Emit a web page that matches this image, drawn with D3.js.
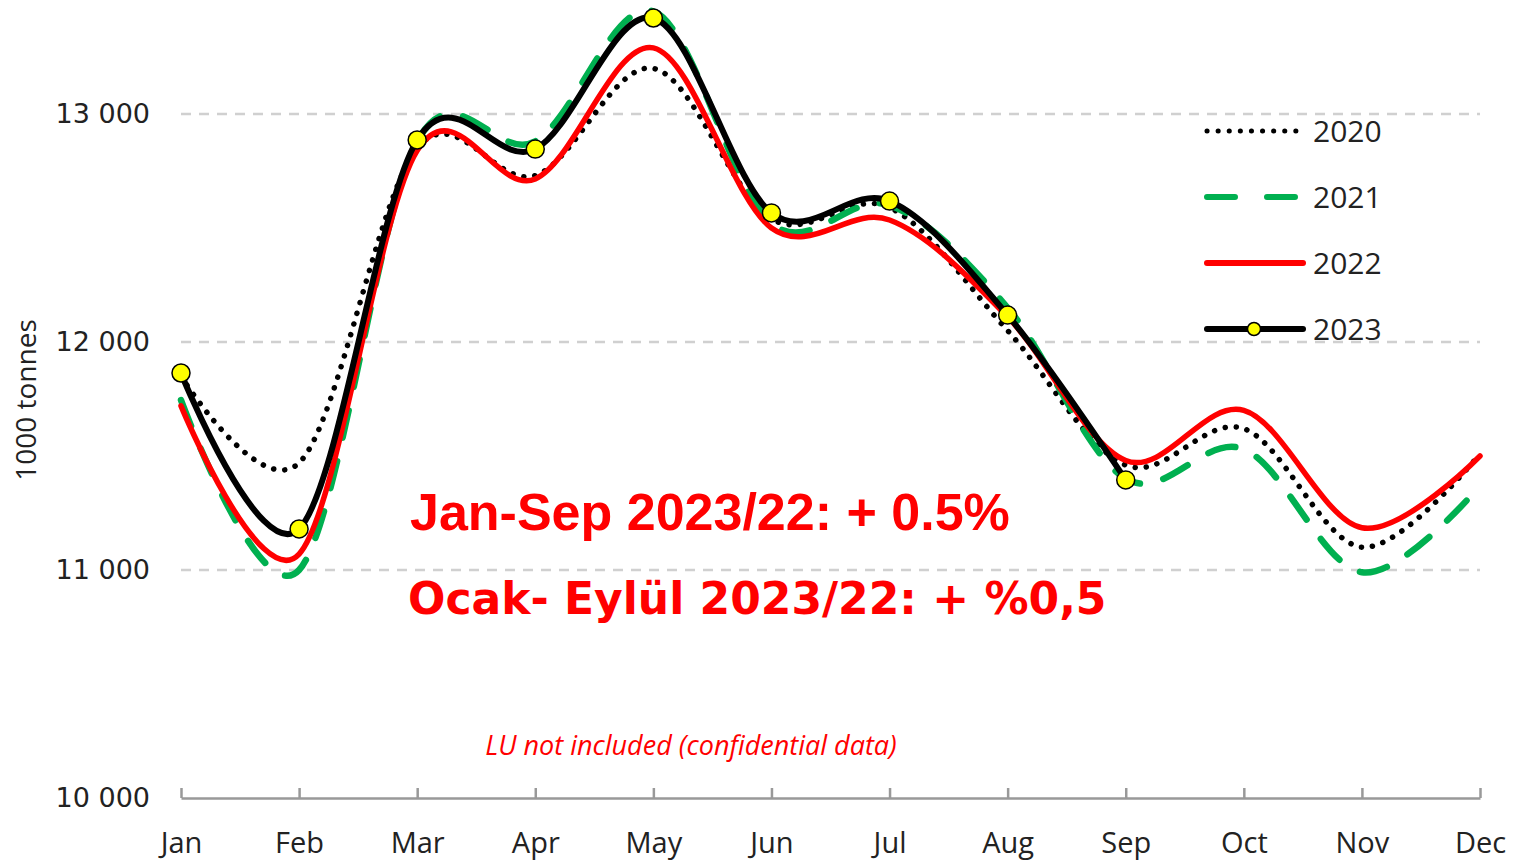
<!DOCTYPE html>
<html>
<head>
<meta charset="utf-8">
<script src="https://cdn.jsdelivr.net/npm/d3@7"></script>
<style>
  body { margin: 0; background: #fff; }
  svg { display: block; }
</style>
</head>
<body>
<svg id="chart" width="1515" height="862"></svg>
<script>
var months = ['Jan', 'Feb', 'Mar', 'Apr', 'May', 'Jun', 'Jul', 'Aug', 'Sep', 'Oct', 'Nov', 'Dec'];
var yTicks = [10000, 11000, 12000, 13000];

var values2020 = [11850, 11470, 12850, 12730, 13200, 12540, 12590, 12050, 11460, 11620, 11100, 11510];
var values2021 = [11745, 11000, 12880, 12880, 13450, 12520, 12600, 12150, 11400, 11530, 10990, 11370];
var values2022 = [11720, 11070, 12840, 12715, 13290, 12500, 12535, 12110, 11480, 11700, 11185, 11500];
var values2023 = [11864, 11180, 12886, 12846, 13421, 12566, 12618, 12118, 11395];

var seriesNames = ['2020', '2021', '2022', '2023'];

var svg = d3.select('#chart');

var x = d3.scalePoint()
    .domain(months)
    .range([181, 1480]);

var y = d3.scaleLinear()
    .domain([10000, 13000])
    .range([798, 114]);

// gridlines (dashed, light grey)
svg.append('g')
  .selectAll('line')
  .data(yTicks.filter(function(d) { return d > 10000; }))
  .enter().append('line')
    .attr('x1', 181)
    .attr('x2', 1480)
    .attr('y1', function(d) { return y(d); })
    .attr('y2', function(d) { return y(d); })
    .style('stroke', '#d0d0d0')
    .style('stroke-width', 2.5)
    .style('stroke-dasharray', '10,8');

// y tick labels
svg.append('g')
  .selectAll('text')
  .data(yTicks)
  .enter().append('text')
    .attr('x', 150)
    .attr('y', function(d) { return y(d); })
    .attr('dy', '0.33em')
    .attr('text-anchor', 'end')
    .style('font-family', 'DejaVu Sans')
    .style('font-size', '27px')
    .style('fill', '#222')
    .text(function(d) { return String(d).slice(0, -3) + ' ' + String(d).slice(-3); });

// axis title
svg.append('text')
  .attr('transform', 'translate(36,400) rotate(-90)')
  .attr('text-anchor', 'middle')
  .style('font-family', 'Open Sans')
  .style('font-size', '28px')
  .style('fill', '#222')
  .text('1000 tonnes');

// x axis
var xAxis = svg.append('g')
  .attr('transform', 'translate(0,798)')
  .call(d3.axisBottom(x).tickSize(-10).tickPadding(34).tickSizeOuter(0));
xAxis.select('.domain').style('stroke', '#999').style('stroke-width', 2.5);
xAxis.selectAll('.tick line').style('stroke', '#999').style('stroke-width', 2.5);
xAxis.selectAll('.tick text')
  .style('font-family', 'Open Sans')
  .style('font-size', '29px')
  .style('fill', '#222');

// lines
var line = d3.line()
  .x(function(d, i) { return x(months[i]); })
  .y(function(d) { return y(d); })
  .curve(d3.curveCatmullRom.alpha(0));

var styles = {
  '2020': { color: '#000', width: 5.5, dash: '0.1,11', cap: 'round' },
  '2021': { color: '#00b050', width: 6.5, dash: '28,24', cap: 'round' },
  '2022': { color: '#ff0000', width: 5.5, dash: null, cap: 'round' },
  '2023': { color: '#000', width: 6, dash: null, cap: 'round' }
};
var data = [values2020, values2021, values2022, values2023];

svg.append('g')
  .selectAll('path')
  .data(data)
  .enter().append('path')
    .attr('d', function(d) { return line(d); })
    .style('fill', 'none')
    .style('stroke', function(d, i) { return styles[seriesNames[i]].color; })
    .style('stroke-width', function(d, i) { return styles[seriesNames[i]].width; })
    .style('stroke-dasharray', function(d, i) { return styles[seriesNames[i]].dash; })
    .style('stroke-linecap', function(d, i) { return styles[seriesNames[i]].cap; });

// 2023 markers
svg.append('g')
  .selectAll('circle')
  .data(values2023)
  .enter().append('circle')
    .attr('cx', function(d, i) { return x(months[i]); })
    .attr('cy', function(d) { return y(d); })
    .attr('r', 9)
    .style('fill', '#ffff00')
    .style('stroke', '#000')
    .style('stroke-width', 1.5);

// legend
var legend = svg.append('g').attr('class', 'legend');
seriesNames.forEach(function(name, i) {
  var ly = 131 + i * 66;
  var s = styles[name];
  legend.append('line')
    .attr('x1', 1207).attr('x2', 1303)
    .attr('y1', ly).attr('y2', ly)
    .style('stroke', s.color)
    .style('stroke-width', name === '2020' ? 5 : 6)
    .style('stroke-dasharray', name === '2021' ? '28,32' : s.dash)
    .style('stroke-linecap', s.cap);
  if (name === '2023') {
    legend.append('circle')
      .attr('cx', 1254).attr('cy', ly).attr('r', 6.5)
      .style('fill', '#ffff00').style('stroke', '#000').style('stroke-width', 1.5);
  }
  legend.append('text')
    .attr('x', 1313).attr('y', ly)
    .attr('dy', '0.35em')
    .style('font-family', 'Open Sans')
    .style('font-size', '30px')
    .style('fill', '#222')
    .text(name);
});

// annotations
svg.append('text')
  .attr('x', 410).attr('y', 530)
  .style('font-family', 'Liberation Sans')
  .style('font-weight', 'bold')
  .style('font-size', '52px')
  .style('fill', '#ff0000')
  .text('Jan-Sep 2023/22: + 0.5%');

svg.append('text')
  .attr('x', 408).attr('y', 614)
  .style('font-family', 'DejaVu Sans')
  .style('font-weight', 'bold')
  .style('font-size', '44px')
  .style('fill', '#ff0000')
  .text('Ocak- Eylül 2023/22: + %0,5');

svg.append('text')
  .attr('x', 691).attr('y', 755)
  .attr('text-anchor', 'middle')
  .style('font-family', 'Open Sans')
  .style('font-style', 'italic')
  .style('font-size', '27px')
  .style('fill', '#ff0000')
  .text('LU not included (confidential data)');
</script>
</body>
</html>
